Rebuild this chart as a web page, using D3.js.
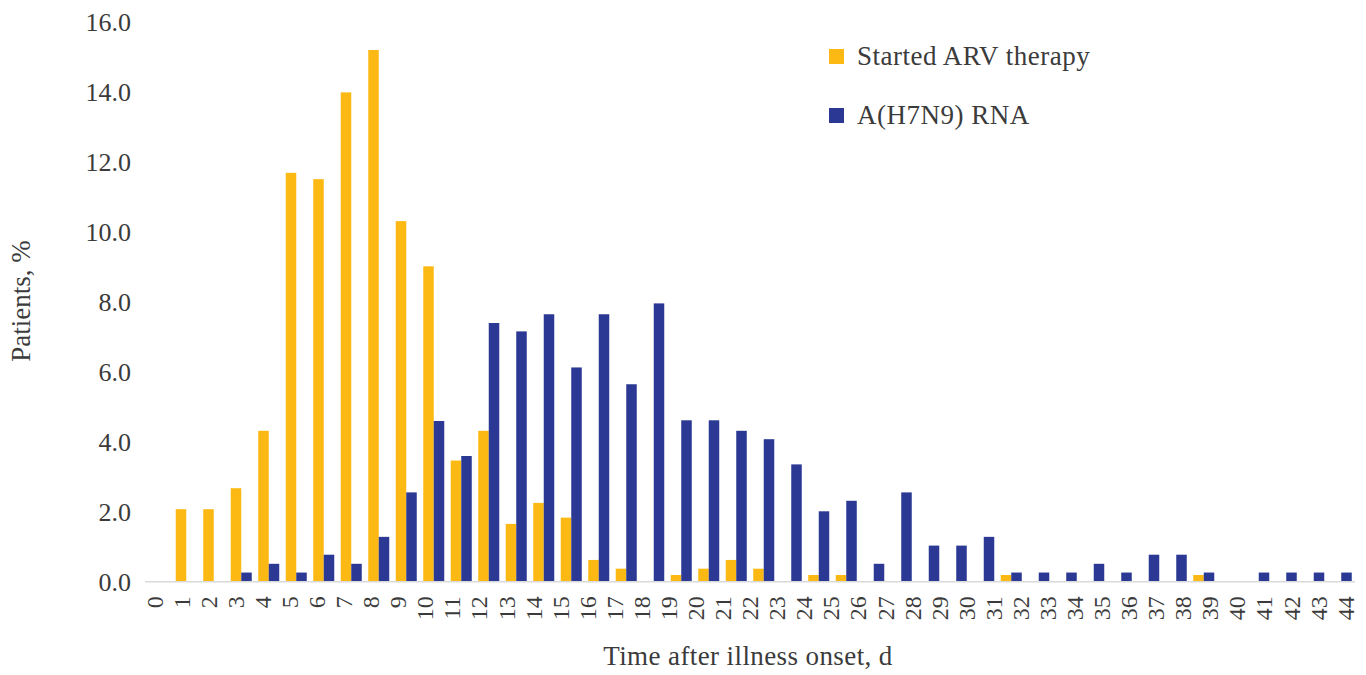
<!DOCTYPE html>
<html>
<head>
<meta charset="utf-8">
<script src="https://cdn.jsdelivr.net/npm/d3@7"></script>
<style>
    body { margin: 0; background: #fff; }
    svg text { font-family: "Liberation Serif", "DejaVu Serif", serif; fill: #3b3b3b; }
</style>
</head>
<body>
<div id="chart"></div>
<script>
// tick labels printed under the axis (the figure prints 45 of them)
const dayLabels = [0, 1, 2, 3, 4, 5, 6, 7, 8, 9, 10, 11, 12, 13, 14, 15, 16, 17, 18, 19, 20, 21,
    22, 23, 24, 25, 26, 27, 28, 29, 30, 31, 32, 33, 34, 35, 36, 37, 38, 39, 40, 41, 42, 43, 44];

// bar slots as drawn in the figure, left to right
const barSlots = [0, 1, 2, 3, 4, 5, 6, 7, 8, 9, 10, 11, 12, 13, 14, 15, 16, 17, 18, 19, 20, 21,
    22, 23, 24, 25, 26, 27, 28, 29, 30, 31, 32, 33, 34, 35, 36, 37, 38, 39, 40, 41, 42, 43];

// % of patients who started ARV therapy
const arvStarted = [0, 2.06, 2.06, 2.66, 4.3, 11.67, 11.49, 13.97, 15.18, 10.29, 9.0, 3.45, 4.3,
    1.64, 2.24, 1.82, 0.61, 0.36, 0, 0.18, 0.36, 0.61, 0.36, 0, 0.18, 0.18, 0, 0, 0, 0, 0,
    0.18, 0, 0, 0, 0, 0, 0, 0.18, 0, 0, 0, 0, 0];

// % of patients with A(H7N9) RNA
const rnaDetected = [0, 0, 0, 0.25, 0.5, 0.25, 0.76, 0.5, 1.27, 2.54, 4.58, 3.58, 7.38, 7.14,
    7.63, 6.11, 7.63, 5.63, 7.94, 4.6, 4.6, 4.3, 4.06, 3.34, 2.0, 2.3, 0.5, 2.54, 1.02, 1.02,
    1.27, 0.25, 0.25, 0.25, 0.5, 0.25, 0.76, 0.76, 0.25, 0, 0.25, 0.25, 0.25, 0.25];

const yTicks = [0, 2, 4, 6, 8, 10, 12, 14, 16];
const seriesKeys = ['arv', 'rna'];
const seriesNames = ['Started ARV therapy', 'A(H7N9) RNA'];
const seriesColours = ['#FDB913', '#2B3894'];

const width = 1366;
const height = 675;

const svg = d3.select('#chart')
    .append('svg')
    .attr('width', width)
    .attr('height', height);

// one row per bar slot
const rows = barSlots.map((s, i) => ({ slot: s, arv: arvStarted[i], rna: rnaDetected[i] }));

const x0 = d3.scaleBand()
    .domain(barSlots)
    .range([145, 1355])
    .paddingInner(0.236)
    .paddingOuter(0.118);

const x1 = d3.scaleBand()
    .domain(seriesKeys)
    .range([0, x0.bandwidth()]);

// labels spread on their own across the axis
const xLabel = d3.scalePoint()
    .domain(dayLabels)
    .range([154, 1345]);

const y = d3.scaleLinear()
    .domain([0, 16])
    .range([581.3, 21.3]);

const colour = d3.scaleOrdinal().domain(seriesKeys).range(seriesColours);

// y axis labels only, no line
const yAxis = svg.append('g')
    .attr('transform', 'translate(145,0)')
    .call(d3.axisLeft(y).tickValues(yTicks).tickFormat(d3.format('.1f')).tickSize(0).tickPadding(14));
yAxis.select('.domain').remove();
yAxis.selectAll('text')
    .style('font-size', '26px')
    .attr('dy', '0.34em');

// bars
const groups = svg.append('g')
    .selectAll('g')
    .data(rows)
    .enter()
    .append('g')
    .attr('transform', d => `translate(${x0(d.slot)},0)`);

groups.selectAll('rect')
    .data(d => seriesKeys.map(k => ({ key: k, value: d[k] })))
    .enter()
    .append('rect')
    .attr('x', d => x1(d.key))
    .attr('width', x1.bandwidth())
    .attr('y', d => y(d.value))
    .attr('height', d => y(0) - y(d.value))
    .attr('fill', d => colour(d.key));

// baseline
svg.append('line')
    .attr('x1', x0.range()[0])
    .attr('x2', x0.range()[1])
    .attr('y1', y(0) + 0.5)
    .attr('y2', y(0) + 0.5)
    .attr('stroke', '#d9d9d9')
    .attr('stroke-width', 1.5);

// x axis labels, rotated
const xAxis = svg.append('g')
    .attr('transform', `translate(0,${y(0) + 15})`)
    .call(d3.axisBottom(xLabel).tickSize(0).tickPadding(0));
xAxis.select('.domain').remove();
xAxis.selectAll('text')
    .style('font-size', '24px')
    .attr('text-anchor', 'end')
    .attr('transform', 'rotate(-90)')
    .attr('x', 0)
    .attr('y', 0)
    .attr('dy', '0.34em');

// axis titles
svg.append('text')
    .attr('x', 748)
    .attr('y', 665)
    .attr('text-anchor', 'middle')
    .style('font-size', '27px')
    .style('letter-spacing', '0.4px')
    .text('Time after illness onset, d');

svg.append('text')
    .attr('transform', 'translate(30,301) rotate(-90)')
    .attr('text-anchor', 'middle')
    .style('font-size', '27px')
    .text('Patients, %');

// legend
const legend = svg.append('g')
    .selectAll('g')
    .data(seriesKeys)
    .enter()
    .append('g')
    .attr('transform', (d, i) => `translate(829,${49 + i * 59})`);

legend.append('rect')
    .attr('width', 15)
    .attr('height', 15)
    .attr('fill', d => colour(d));

legend.append('text')
    .attr('x', 28)
    .attr('y', 16)
    .style('font-size', '27px')
    .style('letter-spacing', '0.5px')
    .text((d, i) => seriesNames[i]);
</script>
</body>
</html>
